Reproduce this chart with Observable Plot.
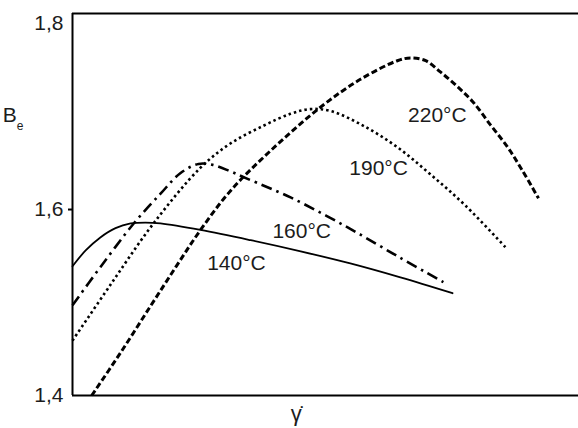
<!DOCTYPE html>
<html>
<head>
<meta charset="utf-8">
<script src="https://cdn.jsdelivr.net/npm/d3@7"></script>
<script src="https://cdn.jsdelivr.net/npm/@observablehq/plot@0.6"></script>
<style>
  html, body { margin: 0; padding: 0; background: #fff; }
  #chart svg { display: block; }
</style>
</head>
<body>
<div id="chart"></div>
<script>
// Entrance-pressure coefficient B_e versus shear rate for four melt temperatures.
const rate140 = [0, 0.26, 0.55, 0.85, 1.15, 1.44, 1.74, 2.53, 3.52, 4.51, 5.49, 6.48, 7.51];
const be140   = [1.539, 1.556, 1.570, 1.580, 1.585, 1.586, 1.585, 1.578, 1.567, 1.555, 1.542, 1.527, 1.510];

const rate160 = [0, 0.55, 1.21, 1.74, 2.13, 2.49, 2.77, 3.12, 3.46, 4.31, 5.43, 6.48, 7.33];
const be160   = [1.497, 1.538, 1.585, 1.617, 1.639, 1.649, 1.648, 1.641, 1.633, 1.613, 1.581, 1.548, 1.522];

const rate190 = [0, 0.75, 1.60, 2.53, 3.12, 3.77, 4.31, 4.70, 5.10, 5.75, 6.42, 7.07, 7.77, 8.58];
const be190   = [1.459, 1.519, 1.585, 1.645, 1.671, 1.690, 1.703, 1.708, 1.706, 1.690, 1.667, 1.638, 1.604, 1.558];

const rate220 = [0.38, 0.95, 1.54, 2.04, 2.53, 3.12, 3.91, 4.90, 5.69, 6.42, 6.68, 6.98, 7.27, 7.61, 7.91, 8.26, 8.60, 8.89, 9.21];
const be220   = [1.400, 1.446, 1.496, 1.538, 1.578, 1.620, 1.663, 1.710, 1.740, 1.760, 1.763, 1.760, 1.748, 1.732, 1.716, 1.691, 1.667, 1.642, 1.612];

const curveLabels = ["140°C", "160°C", "190°C", "220°C"];
const labelRate   = [3.24, 4.53, 6.05, 7.21];
const labelBe     = [1.542, 1.577, 1.644, 1.701];

const yTicks = [1.4, 1.6, 1.8];
const yMarked = [1.6];
const xDomain = [0, 10];
const yDomain = [1.4, 1.8108];
const xTitle = "γ\u0307";
const xTitleRate = 4.43;

const rows = (xs, ys) => xs.map((x, i) => ({x, y: ys[i]}));
const labels = curveLabels.map((t, i) => ({t, x: labelRate[i], y: labelBe[i]}));

const font = "'Liberation Sans', Arial, sans-serif";
const ink = "#1c1c1c";
const curveStyle = {x: "x", y: "y", curve: "catmull-rom", stroke: "#000",
                    strokeLinecap: "butt", strokeLinejoin: "round"};

const chart = Plot.plot({
  width: 578,
  height: 428,
  marginLeft: 72,
  marginRight: 0,
  marginTop: 13,
  marginBottom: 33,
  style: {fontFamily: font, fontSize: "21px", color: ink, background: "#fff"},
  x: {domain: xDomain, axis: null},
  y: {domain: yDomain, axis: null},
  marks: [
    Plot.axisY({ticks: yTicks, tickSize: 0, tickPadding: 9, fontSize: 21,
                tickFormat: d => d.toFixed(1).replace(".", ","), label: null}),
    Plot.axisY({ticks: yMarked, tickSize: 4, text: null, label: null, strokeWidth: 2, stroke: "#000"}),
    Plot.ruleX([xDomain[0]], {stroke: "#000", strokeWidth: 2}),
    Plot.ruleY([yDomain[0], yDomain[1]], {stroke: "#000", strokeWidth: 2}),
    Plot.line(rows(rate140, be140), {...curveStyle, strokeWidth: 1.8, strokeLinecap: "round"}),
    Plot.line(rows(rate160, be160), {...curveStyle, strokeWidth: 2.6, strokeDasharray: "11,5,2.5,5"}),
    Plot.line(rows(rate190, be190), {...curveStyle, strokeWidth: 2.6, strokeDasharray: "2.5,3"}),
    Plot.line(rows(rate220, be220), {...curveStyle, strokeWidth: 3, strokeDasharray: "6,3"}),
    Plot.text(labels, {x: "x", y: "y", text: "t", fontSize: 21, fill: ink,
      stroke: "#fff", strokeWidth: 3, paintOrder: "stroke"})
  ]
});

// Axis titles: B with subscript e on the left, gamma-dot under the frame.
const svg = d3.select(chart);
const yTitle = svg.append("text")
  .attr("x", 13).attr("y", 122)
  .attr("font-family", font).attr("font-size", 21).attr("fill", ink);
yTitle.append("tspan").text("B");
yTitle.append("tspan").attr("font-size", 12).attr("dy", 8).text("e");

svg.append("text")
  .attr("x", chart.scale("x").apply(xTitleRate)).attr("y", 421)
  .attr("text-anchor", "middle")
  .attr("font-family", font).attr("font-size", 22).attr("fill", ink)
  .text(xTitle);

document.getElementById("chart").append(chart);
</script>
</body>
</html>
